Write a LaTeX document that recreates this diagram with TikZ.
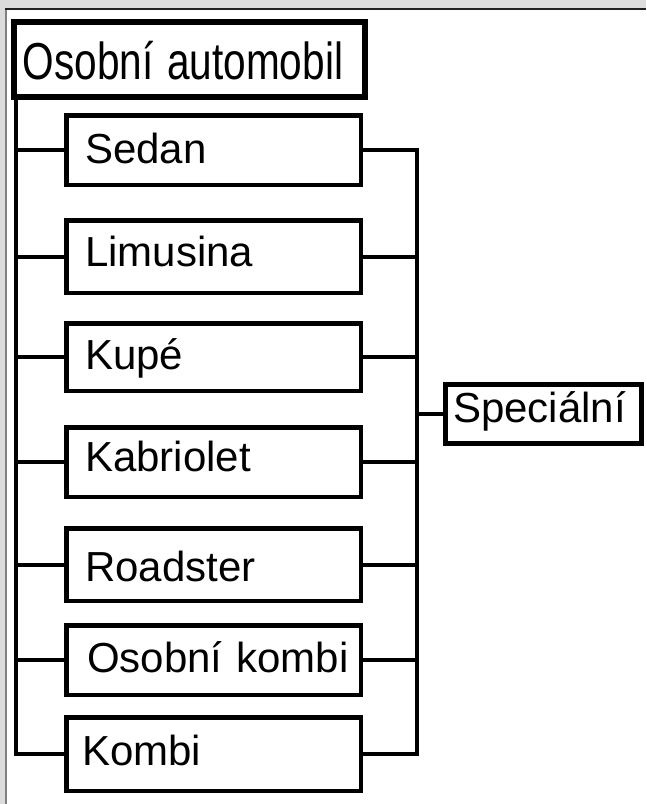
\documentclass[tikz,border=0pt]{standalone}
\usepackage{fontspec}
\setmainfont{Liberation Sans}
\usepackage{graphicx}
\definecolor{winbg}{HTML}{DCDCDC}
\definecolor{edgeL}{HTML}{808080}
\definecolor{edgeT}{HTML}{202020}
\begin{document}
\begin{tikzpicture}[x=1pt,y=-1pt,
  cbox/.style={draw=black, line width=4.5pt, rectangle, minimum width=294.5pt,
    text width=256.5pt, inner xsep=19pt, inner ysep=0pt, align=left,
    text height=35pt, font=\fontsize{42}{50}\selectfont},
  conn/.style={draw=black, line width=4pt}]
\useasboundingbox (0,0) rectangle (646,804);
\fill[winbg] (0,0) rectangle (646,804);
\fill[white] (5,8) rectangle (646,804);
\draw[edgeL, line width=1.5pt] (5.75,8) -- (5.75,804);
\draw[edgeT, line width=1.5pt] (5,8.75) -- (646,8.75);

\node[draw=black, line width=6pt, rectangle, minimum width=349pt, minimum height=75pt,
  text width=333pt, inner xsep=9pt, inner ysep=0pt, align=left,
  text height=40pt, text depth=0pt, font=\fontsize{52}{62}\selectfont]
  (title) at (189.5,59.5) {\scalebox{0.78}[1]{Osobní automobil}};

\node[cbox, minimum height=69.5pt, text depth=9pt]    (sedan) at (213.5,150)   {Sedan};
\node[cbox, minimum height=72.5pt, text depth=14.6pt] (limo)  at (213.5,256.5) {Limusina};
\node[cbox, minimum height=67.5pt, text depth=11pt]   (kupe)  at (213.5,357)   {Kupé};
\node[cbox, minimum height=69.5pt, text depth=15.6pt] (kabrio) at (213.5,462)  {Kabriolet};
\node[cbox, minimum height=72.5pt, text depth=2pt]    (road)  at (213.5,564.5) {Roadster};
\node[cbox, minimum height=69.5pt, text depth=9.6pt, inner xsep=21pt, text width=252.5pt] (okombi) at (213.5,660) {\mbox{Osobní kombi}};
\node[cbox, minimum height=73.5pt, text depth=13pt, inner xsep=16pt, text width=262.5pt]  (kombi) at (213.5,754) {Kombi};

\node[draw=black, line width=5pt, rectangle, minimum width=196pt, minimum height=59pt,
  text width=181pt, inner xsep=7.5pt, inner ysep=0pt, align=left,
  text height=35pt, text depth=19pt, font=\fontsize{42}{50}\selectfont]
  (spec) at (543.5,414) {Speciální};

\coordinate (lbus) at (15.5,100);
\coordinate (rbus) at (417,414);

\draw[conn] (lbus) |- (kombi.west);
\foreach \n in {sedan,limo,kupe,kabrio,road,okombi}
  \draw[conn] (lbus |- \n.west) -- (\n.west);

\draw[conn] (sedan.east) -| (rbus |- kombi.east) -- (kombi.east);
\foreach \n in {limo,kupe,kabrio,road,okombi}
  \draw[conn] (\n.east) -- (rbus |- \n.east);
\draw[conn] (rbus) -- (spec.west);
\end{tikzpicture}
\end{document}
